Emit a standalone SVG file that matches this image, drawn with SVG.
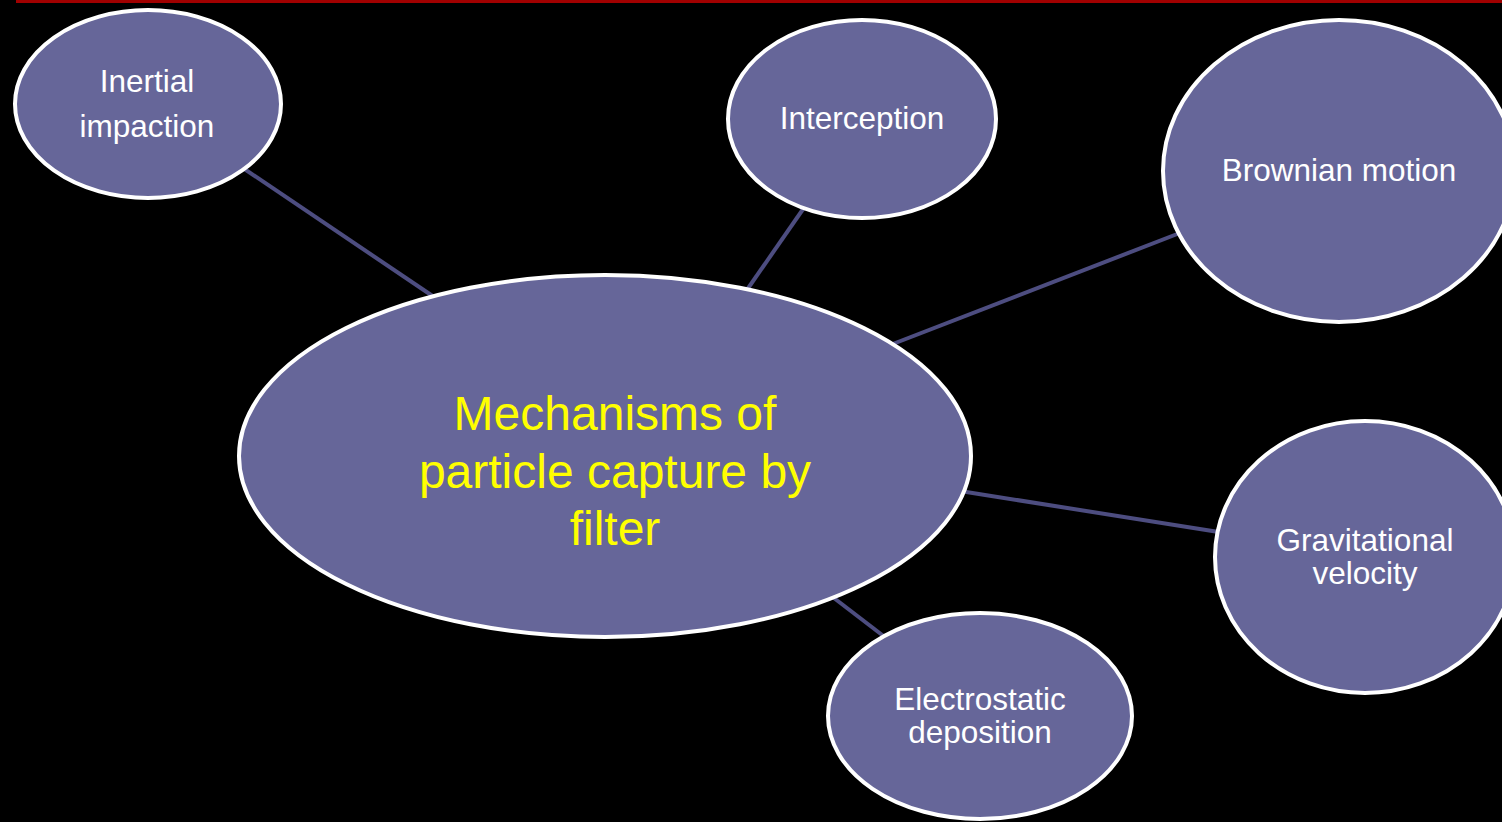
<svg xmlns="http://www.w3.org/2000/svg" width="1502" height="822" viewBox="0 0 1502 822">
<style>
.node{fill:#666699;stroke:#ffffff;stroke-width:4}
.lbl{font-family:"Liberation Sans",Arial,sans-serif;font-size:31.5px;fill:#ffffff;text-anchor:middle}
.main{font-family:"Liberation Sans",Arial,sans-serif;font-size:48px;fill:#ffff00;text-anchor:middle}
.conn{stroke:#4d4d80;stroke-width:4;fill:none}
</style>
<rect x="0" y="0" width="1502" height="822" fill="#000000"/>
<rect x="16" y="0" width="1486" height="3" fill="#a00000"/>
<g id="connectors">
<line class="conn" x1="240" y1="166" x2="440" y2="301"/>
<line class="conn" x1="808" y1="202" x2="742" y2="297"/>
<line class="conn" x1="1185" y1="231" x2="885" y2="347"/>
<line class="conn" x1="1225" y1="533" x2="960" y2="491"/>
<line class="conn" x1="890" y1="641" x2="830" y2="595"/>
</g>
<g id="inertial">
<ellipse class="node" cx="148" cy="104" rx="133" ry="94"/>
<text class="lbl" x="147" y="92">Inertial</text>
<text class="lbl" x="147" y="137">impaction</text>
</g>
<g id="interception">
<ellipse class="node" cx="862" cy="119" rx="134" ry="99"/>
<text class="lbl" x="862" y="129">Interception</text>
</g>
<g id="brownian">
<ellipse class="node" cx="1339" cy="171" rx="176" ry="151"/>
<text class="lbl" x="1339" y="181">Brownian motion</text>
</g>
<g id="main">
<ellipse class="node" cx="605" cy="456" rx="366" ry="181"/>
<text class="main" x="615" y="430">Mechanisms of</text>
<text class="main" x="615" y="488">particle capture by</text>
<text class="main" x="615" y="545">filter</text>
</g>
<g id="gravitational">
<ellipse class="node" cx="1365" cy="557" rx="150" ry="136"/>
<text class="lbl" x="1365" y="551">Gravitational</text>
<text class="lbl" x="1365" y="584">velocity</text>
</g>
<g id="electrostatic">
<ellipse class="node" cx="980" cy="716" rx="152" ry="103"/>
<text class="lbl" x="980" y="710">Electrostatic</text>
<text class="lbl" x="980" y="743">deposition</text>
</g>
</svg>
